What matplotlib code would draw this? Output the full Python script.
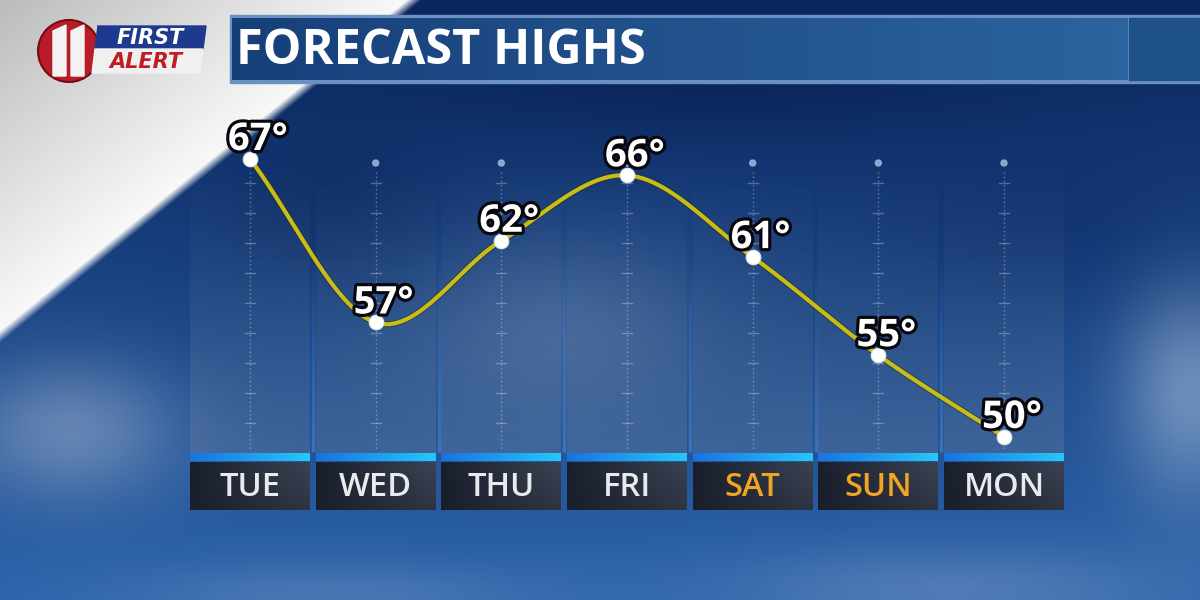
import numpy as np
import matplotlib
matplotlib.use("Agg")
import matplotlib.pyplot as plt
from matplotlib import patheffects as pe
from matplotlib.patches import Rectangle, Circle, Polygon

# ---------------- data ----------------
days = ["TUE", "WED", "THU", "FRI", "SAT", "SUN", "MON"]
highs = [67, 57, 62, 66, 61, 55, 50]
weekend_days = ["SAT", "SUN"]
title_text = "FORECAST HIGHS"

# ---------------- layout constants (pixels) ----------------
W, H = 1200, 600
COL0 = 250.0        # pixel x of first day
COLSTEP = 125.67    # pixel spacing of days
COLHALF = 60.0
Y_REF_T, Y_REF_PX = 67.0, 159.0
PX_PER_DEG = 16.35
AX_TOP_PX, AX_BOT_PX = 100.0, 462.0

FONT = "Open Sans"

def col_px(i):
    return COL0 + COLSTEP * i

fig = plt.figure(figsize=(12, 6), dpi=100)

# ---------------- background (pixel coordinates) ----------------
bg = fig.add_axes([0, 0, 1, 1], zorder=0)
bg.set_xlim(0, W)
bg.set_ylim(H, 0)
bg.axis("off")

yy, xx = np.mgrid[0:H, 0:W].astype(float)
t = (yy / H)[..., None]
top = np.array([0.04, 0.15, 0.37])
bot = np.array([0.17, 0.39, 0.67])
img = top * (1 - t) + bot * t

def blob(cx, cy, sx, sy, color, alpha):
    global img
    g = np.exp(-(((xx - cx) / sx) ** 2 + ((yy - cy) / sy) ** 2))[..., None] * alpha
    img = img * (1 - g) + np.array(color) * g

blob(560, 330, 140, 90, (0.40, 0.52, 0.68), 0.45)
blob(1190, 390, 70, 110, (0.62, 0.72, 0.84), 0.6)
blob(950, 590, 230, 45, (0.45, 0.58, 0.76), 0.5)
blob(330, 595, 220, 35, (0.45, 0.58, 0.76), 0.4)
blob(70, 430, 110, 70, (0.60, 0.68, 0.80), 0.55)
blob(1050, 220, 200, 80, (0.05, 0.17, 0.40), 0.4)
blob(720, 80, 300, 60, (0.03, 0.12, 0.32), 0.5)
blob(330, 200, 120, 80, (0.04, 0.14, 0.34), 0.4)

# diagonal white band in the top-left
d = (337.0 - 0.813 * xx) - yy
a = np.clip((d + 5) / 12.0, 0, 1)[..., None]
lvl = 0.98 - 0.24 * np.clip(d / 330.0, 0, 1)
white = np.stack([lvl, lvl, lvl], axis=-1)
img = img * (1 - a) + white * a
img = np.clip(img, 0, 1)
bg.imshow(img, extent=(0, W, H, 0), aspect="auto", zorder=0, interpolation="bilinear")

# column panels, center guides, stripes, label boxes
for i, day in enumerate(days):
    cx = col_px(i)
    x0, x1 = cx - COLHALF, cx + COLHALF
    n = 200
    alpha = np.linspace(0.0, 0.40, n) ** 1.2
    panel = np.zeros((n, 2, 4))
    panel[..., 0] = 0.45
    panel[..., 1] = 0.52
    panel[..., 2] = 0.62
    panel[..., 3] = alpha[:, None]
    bg.imshow(panel, extent=(x0, x1, 453, 150), aspect="auto", zorder=1,
              interpolation="bilinear")
    # light gap line on the left of each column
    if i > 0:
        gx = cx - COLSTEP / 2
        for k in range(30):
            yA = 260 + k * 6.4
            bg.plot([gx, gx], [yA, yA + 6.4], color="#4f86c8",
                    alpha=0.6 * (k + 1) / 30, lw=2.5, zorder=1, solid_capstyle="butt")
    # dotted center line
    bg.plot([cx, cx], [172, 450], color="white", alpha=0.35, lw=1,
            linestyle=(0, (1, 2)), zorder=2)
    for k in range(9):
        ty = 183 + 30 * k
        bg.plot([cx - 5, cx + 5], [ty, ty], color="white", alpha=0.28, lw=1, zorder=2)
    bg.add_patch(Circle((cx, 163), 3, color="#9fb6de", alpha=0.85, zorder=2))
    # blue stripe with horizontal gradient
    stripe = np.zeros((1, 50, 3))
    s = np.linspace(0, 1, 50)
    stripe[0, :, 0] = 0.10 + 0.05 * s
    stripe[0, :, 1] = 0.45 + 0.33 * s
    stripe[0, :, 2] = 0.88 + 0.09 * s
    bg.imshow(stripe, extent=(x0, x1, 461, 453), aspect="auto", zorder=2,
              interpolation="bilinear")
    # dark label box with gradient
    box = np.zeros((20, 50, 3))
    bx = np.linspace(0, 1, 50)[None, :]
    by = np.linspace(0, 1, 20)[:, None]
    g = 0.6 * bx + 0.4 * (1 - by) * bx
    box[..., 0] = 0.10 + 0.13 * g
    box[..., 1] = 0.12 + 0.14 * g
    box[..., 2] = 0.17 + 0.15 * g
    bg.imshow(box, extent=(x0, x1, 510, 462), aspect="auto", zorder=2,
              interpolation="bilinear")

# ---------------- title bar ----------------
bg.add_patch(Rectangle((230, 15), 975, 68, color="#6a91c2", zorder=3))
bar = np.zeros((1, 100, 3))
s = np.linspace(0, 1, 100)
bar[0, :, 0] = 0.09 + 0.08 * s
bar[0, :, 1] = 0.25 + 0.14 * s
bar[0, :, 2] = 0.48 + 0.14 * s
bg.imshow(bar, extent=(232, 1128, 80, 18), aspect="auto", zorder=4)
bg.add_patch(Rectangle((1129, 18), 80, 62, color="#1f5189", zorder=4))
bg.text(236, 51, title_text, color="white", fontsize=35, fontweight="bold",
        family=[FONT, "DejaVu Sans"], va="center", ha="left", zorder=5)

# ---------------- logo ----------------
bg.add_patch(Circle((69, 51), 31, color="#b81c26", zorder=5))
bg.add_patch(Circle((69, 51), 31, fill=False, ec="#7a0c12", lw=1.5, zorder=5))
bg.add_patch(Polygon([(53, 31), (66, 25), (66, 76), (53, 76)], closed=True,
                     color="#f2f2f2", zorder=6))
bg.add_patch(Polygon([(71, 31), (84, 25), (84, 76), (71, 76)], closed=True,
                     color="#f2f2f2", zorder=6))
bg.add_patch(Polygon([(98, 26), (206, 26), (203, 49), (95, 49)], closed=True,
                     color="#1e3a8e", zorder=5))
bg.add_patch(Polygon([(95, 49), (203, 49), (200, 73), (92, 73)], closed=True,
                     color="#f0f0f0", zorder=5))
bg.text(150, 38, "FIRST", color="white", fontsize=15, fontweight="bold",
        style="italic", family=["DejaVu Sans"], ha="center", va="center", zorder=6)
bg.text(146, 62, "ALERT", color="#c01c24", fontsize=15, fontweight="bold",
        style="italic", family=["DejaVu Sans"], ha="center", va="center", zorder=6)

# ---------------- data axes ----------------
left = (COL0 - 0.5 * COLSTEP) / W
width = 7 * COLSTEP / W
bottom = (H - AX_BOT_PX) / H
height = (AX_BOT_PX - AX_TOP_PX) / H
ax = fig.add_axes([left, bottom, width, height], zorder=2)
ax.patch.set_alpha(0)
for sp in ax.spines.values():
    sp.set_visible(False)
ax.set_xlim(-0.5, len(days) - 0.5)
y_bot = Y_REF_T - (AX_BOT_PX - Y_REF_PX) / PX_PER_DEG
y_top = Y_REF_T + (Y_REF_PX - AX_TOP_PX) / PX_PER_DEG
ax.set_ylim(y_bot, y_top)
ax.set_yticks([])

# smooth Catmull-Rom curve through the highs
x = np.arange(len(highs), dtype=float)
y = np.array(highs, dtype=float)
m = np.zeros_like(y)
m[1:-1] = (y[2:] - y[:-2]) / 2
m[0] = y[1] - y[0]
m[-1] = y[-1] - y[-2]
xs, ys = [], []
tt = np.linspace(0, 1, 60)
h00 = 2 * tt**3 - 3 * tt**2 + 1
h10 = tt**3 - 2 * tt**2 + tt
h01 = -2 * tt**3 + 3 * tt**2
h11 = tt**3 - tt**2
for i in range(len(y) - 1):
    xs.append(x[i] + tt)
    ys.append(h00 * y[i] + h10 * m[i] + h01 * y[i + 1] + h11 * m[i + 1])
xs = np.concatenate(xs)
ys = np.concatenate(ys)
ax.plot(xs, ys, color="#c6bd1a", lw=3.0, solid_capstyle="round", zorder=3,
        path_effects=[pe.Stroke(linewidth=4.4, foreground="#2a2a10", alpha=0.5), pe.Normal()],
        clip_on=False)
ax.plot(x, y, "o", color="white", markersize=10.5, zorder=4, clip_on=False,
        markeredgecolor="#dfe6ee", markeredgewidth=0.8)

for xi, yi in zip(x, highs):
    ax.annotate(f"{yi}°", (xi, yi), xytext=(8, 9), textcoords="offset pixels",
                ha="center", va="baseline", color="white", fontsize=27.5,
                fontweight="bold", family=[FONT, "DejaVu Sans"], zorder=5,
                annotation_clip=False,
                path_effects=[pe.withStroke(linewidth=4.5, foreground="#07070d")])

# day names as tick labels
ax.set_xticks(x)
ax.set_xticklabels(days)
ax.tick_params(axis="x", length=0, pad=25 * 0.72)
for lab in ax.get_xticklabels():
    lab.set_va("center")
    lab.set_fontsize(23.5)
    lab.set_family([FONT, "DejaVu Sans"])
    lab.set_fontweight("semibold")
    lab.set_color("#f0a524" if lab.get_text() in weekend_days else "#e8eaee")

fig.savefig("out.png", dpi=100)
